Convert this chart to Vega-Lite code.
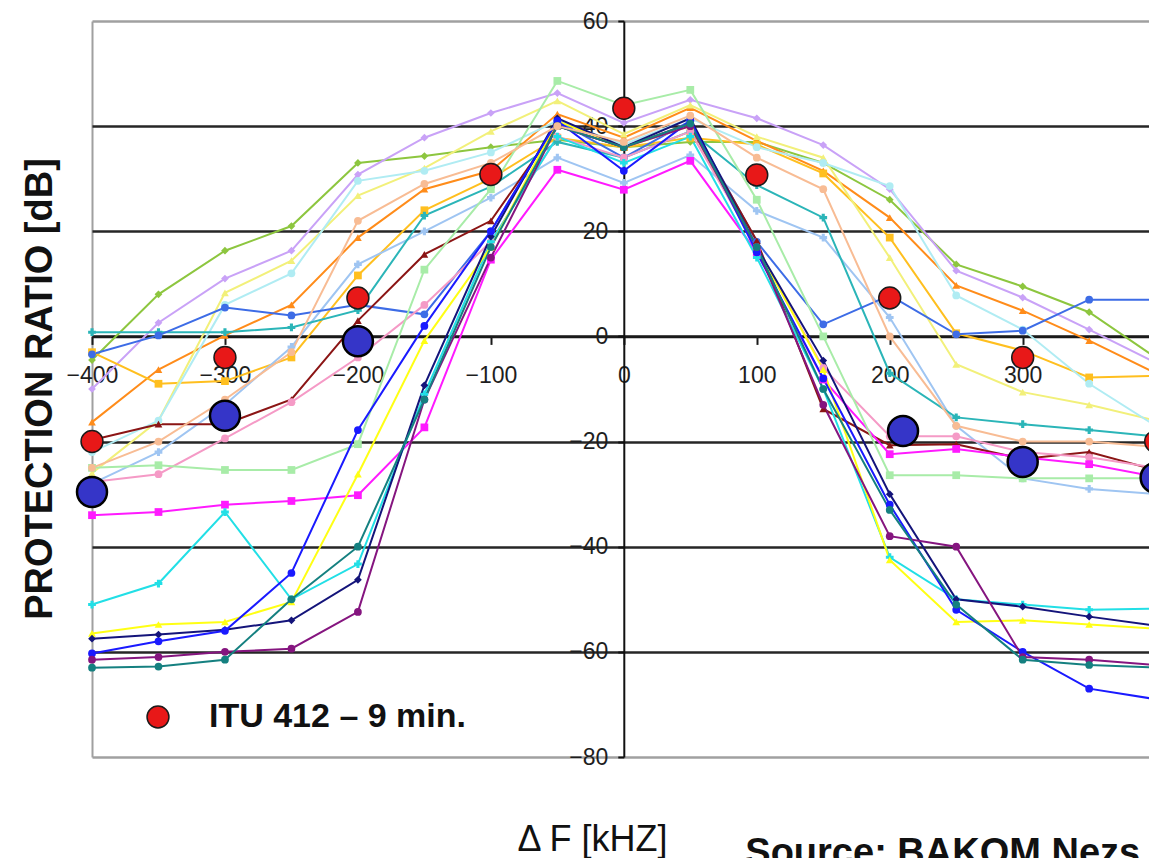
{
"$schema":"https://vega.github.io/schema/vega-lite/v6.json",
"width":1057,"height":736,
"autosize":{"type":"none"},
"padding":{"left":92,"top":21,"right":0,"bottom":101},
"background":"#ffffff",
"config":{"view":{"stroke":null},"font":"Liberation Sans"},
"title":{"text":"PROTECTION RATIO [dB]","orient":"left","anchor":"middle","font":"Liberation Sans","fontSize":38,"fontWeight":"bold","color":"#111111","offset":6},
"datasets":{
"curves":[
{"s":"s1","f":-400,"v":-4.5},{"s":"s1","f":-350,"v":8},{"s":"s1","f":-300,"v":16.3},{"s":"s1","f":-250,"v":21},{"s":"s1","f":-200,"v":33},{"s":"s1","f":-150,"v":34.3},{"s":"s1","f":-100,"v":36},{"s":"s1","f":-50,"v":37.4},{"s":"s1","f":0,"v":36},{"s":"s1","f":50,"v":37},{"s":"s1","f":100,"v":37},{"s":"s1","f":150,"v":33},{"s":"s1","f":200,"v":26},{"s":"s1","f":250,"v":13.7},{"s":"s1","f":300,"v":9.5},{"s":"s1","f":350,"v":4.6},{"s":"s1","f":400,"v":-4},
{"s":"s2","f":-400,"v":-10},{"s":"s2","f":-350,"v":2.6},{"s":"s2","f":-300,"v":11},{"s":"s2","f":-250,"v":16.3},{"s":"s2","f":-200,"v":30.8},{"s":"s2","f":-150,"v":37.8},{"s":"s2","f":-100,"v":42.5},{"s":"s2","f":-50,"v":46.3},{"s":"s2","f":0,"v":40.6},{"s":"s2","f":50,"v":45},{"s":"s2","f":100,"v":41.5},{"s":"s2","f":150,"v":36.4},{"s":"s2","f":200,"v":28},{"s":"s2","f":250,"v":12.5},{"s":"s2","f":300,"v":7.4},{"s":"s2","f":350,"v":1.3},{"s":"s2","f":400,"v":-5},
{"s":"s3","f":-400,"v":-16.3},{"s":"s3","f":-350,"v":-6.3},{"s":"s3","f":-300,"v":0.2},{"s":"s3","f":-250,"v":6},{"s":"s3","f":-200,"v":18.8},{"s":"s3","f":-150,"v":28},{"s":"s3","f":-100,"v":31.5},{"s":"s3","f":-50,"v":42.3},{"s":"s3","f":0,"v":37.8},{"s":"s3","f":50,"v":43.5},{"s":"s3","f":100,"v":37.2},{"s":"s3","f":150,"v":31.5},{"s":"s3","f":200,"v":22.6},{"s":"s3","f":250,"v":9.7},{"s":"s3","f":300,"v":4.9},{"s":"s3","f":350,"v":-0.8},{"s":"s3","f":400,"v":-7},
{"s":"s4","f":-400,"v":-3},{"s":"s4","f":-350,"v":-9},{"s":"s4","f":-300,"v":-8.5},{"s":"s4","f":-250,"v":-4},{"s":"s4","f":-200,"v":11.6},{"s":"s4","f":-150,"v":24},{"s":"s4","f":-100,"v":30},{"s":"s4","f":-50,"v":37.8},{"s":"s4","f":0,"v":36},{"s":"s4","f":50,"v":37.8},{"s":"s4","f":100,"v":36.5},{"s":"s4","f":150,"v":31},{"s":"s4","f":200,"v":18.8},{"s":"s4","f":250,"v":0.6},{"s":"s4","f":300,"v":-2.7},{"s":"s4","f":350,"v":-7.8},{"s":"s4","f":400,"v":-7.5},
{"s":"s5","f":-400,"v":-26},{"s":"s5","f":-350,"v":-16},{"s":"s5","f":-300,"v":8.3},{"s":"s5","f":-250,"v":14.4},{"s":"s5","f":-200,"v":26.8},{"s":"s5","f":-150,"v":32},{"s":"s5","f":-100,"v":39},{"s":"s5","f":-50,"v":44.8},{"s":"s5","f":0,"v":38.5},{"s":"s5","f":50,"v":44},{"s":"s5","f":100,"v":38},{"s":"s5","f":150,"v":34},{"s":"s5","f":200,"v":15},{"s":"s5","f":250,"v":-5.3},{"s":"s5","f":300,"v":-10.6},{"s":"s5","f":350,"v":-13},{"s":"s5","f":400,"v":-16},
{"s":"s6","f":-400,"v":-22},{"s":"s6","f":-350,"v":-16},{"s":"s6","f":-300,"v":6},{"s":"s6","f":-250,"v":12},{"s":"s6","f":-200,"v":29.6},{"s":"s6","f":-150,"v":31.5},{"s":"s6","f":-100,"v":35},{"s":"s6","f":-50,"v":41},{"s":"s6","f":0,"v":36.5},{"s":"s6","f":50,"v":41.5},{"s":"s6","f":100,"v":36},{"s":"s6","f":150,"v":33},{"s":"s6","f":200,"v":28.6},{"s":"s6","f":250,"v":7.8},{"s":"s6","f":300,"v":1.3},{"s":"s6","f":350,"v":-9},{"s":"s6","f":400,"v":-17},
{"s":"s7","f":-400,"v":-28},{"s":"s7","f":-350,"v":-22},{"s":"s7","f":-300,"v":-13},{"s":"s7","f":-250,"v":-2},{"s":"s7","f":-200,"v":13.7},{"s":"s7","f":-150,"v":20},{"s":"s7","f":-100,"v":26.4},{"s":"s7","f":-50,"v":34},{"s":"s7","f":0,"v":29.2},{"s":"s7","f":50,"v":34.5},{"s":"s7","f":100,"v":23.9},{"s":"s7","f":150,"v":18.8},{"s":"s7","f":200,"v":3.6},{"s":"s7","f":250,"v":-17},{"s":"s7","f":300,"v":-27},{"s":"s7","f":350,"v":-29},{"s":"s7","f":400,"v":-30},
{"s":"s8","f":-400,"v":0.8},{"s":"s8","f":-350,"v":0.8},{"s":"s8","f":-300,"v":0.8},{"s":"s8","f":-250,"v":1.7},{"s":"s8","f":-200,"v":5},{"s":"s8","f":-150,"v":23},{"s":"s8","f":-100,"v":28.5},{"s":"s8","f":-50,"v":37},{"s":"s8","f":0,"v":34},{"s":"s8","f":50,"v":39},{"s":"s8","f":100,"v":28.8},{"s":"s8","f":150,"v":22.6},{"s":"s8","f":200,"v":-7},{"s":"s8","f":250,"v":-15.4},{"s":"s8","f":300,"v":-16.7},{"s":"s8","f":350,"v":-17.8},{"s":"s8","f":400,"v":-19},
{"s":"s9","f":-400,"v":-3.4},{"s":"s9","f":-350,"v":0.2},{"s":"s9","f":-300,"v":5.5},{"s":"s9","f":-250,"v":4},{"s":"s9","f":-200,"v":6},{"s":"s9","f":-150,"v":4.2},{"s":"s9","f":-100,"v":20},{"s":"s9","f":-50,"v":41},{"s":"s9","f":0,"v":34},{"s":"s9","f":50,"v":41},{"s":"s9","f":100,"v":18},{"s":"s9","f":150,"v":2.3},{"s":"s9","f":200,"v":7.8},{"s":"s9","f":250,"v":0.4},{"s":"s9","f":300,"v":1.1},{"s":"s9","f":350,"v":7},{"s":"s9","f":400,"v":7},
{"s":"s10","f":-400,"v":-19.7},{"s":"s10","f":-350,"v":-16.7},{"s":"s10","f":-300,"v":-16.7},{"s":"s10","f":-250,"v":-12},{"s":"s10","f":-200,"v":3},{"s":"s10","f":-150,"v":15.6},{"s":"s10","f":-100,"v":22},{"s":"s10","f":-50,"v":40},{"s":"s10","f":0,"v":36},{"s":"s10","f":50,"v":40.5},{"s":"s10","f":100,"v":18.2},{"s":"s10","f":150,"v":-13.8},{"s":"s10","f":200,"v":-20.7},{"s":"s10","f":250,"v":-20.5},{"s":"s10","f":300,"v":-23.3},{"s":"s10","f":350,"v":-22},{"s":"s10","f":400,"v":-25.4},
{"s":"s11","f":-400,"v":-27.7},{"s":"s11","f":-350,"v":-26.2},{"s":"s11","f":-300,"v":-19.4},{"s":"s11","f":-250,"v":-12.5},{"s":"s11","f":-200,"v":-4},{"s":"s11","f":-150,"v":6},{"s":"s11","f":-100,"v":18},{"s":"s11","f":-50,"v":38},{"s":"s11","f":0,"v":34},{"s":"s11","f":50,"v":39},{"s":"s11","f":100,"v":17},{"s":"s11","f":150,"v":-6},{"s":"s11","f":200,"v":-19},{"s":"s11","f":250,"v":-19},{"s":"s11","f":300,"v":-22},{"s":"s11","f":350,"v":-23},{"s":"s11","f":400,"v":-25},
{"s":"s12","f":-400,"v":-34},{"s":"s12","f":-350,"v":-33.4},{"s":"s12","f":-300,"v":-32},{"s":"s12","f":-250,"v":-31.3},{"s":"s12","f":-200,"v":-30.2},{"s":"s12","f":-150,"v":-17.3},{"s":"s12","f":-100,"v":14.6},{"s":"s12","f":-50,"v":31.7},{"s":"s12","f":0,"v":27.9},{"s":"s12","f":50,"v":33.4},{"s":"s12","f":100,"v":16},{"s":"s12","f":150,"v":-8.2},{"s":"s12","f":200,"v":-22.4},{"s":"s12","f":250,"v":-21.4},{"s":"s12","f":300,"v":-23},{"s":"s12","f":350,"v":-24.3},{"s":"s12","f":400,"v":-26.7},
{"s":"s13","f":-400,"v":-25},{"s":"s13","f":-350,"v":-24.5},{"s":"s13","f":-300,"v":-25.4},{"s":"s13","f":-250,"v":-25.4},{"s":"s13","f":-200,"v":-20.5},{"s":"s13","f":-150,"v":12.7},{"s":"s13","f":-100,"v":28},{"s":"s13","f":-50,"v":48.6},{"s":"s13","f":0,"v":44},{"s":"s13","f":50,"v":46.9},{"s":"s13","f":100,"v":26},{"s":"s13","f":150,"v":0},{"s":"s13","f":200,"v":-26.4},{"s":"s13","f":250,"v":-26.4},{"s":"s13","f":300,"v":-27},{"s":"s13","f":350,"v":-27},{"s":"s13","f":400,"v":-27},
{"s":"s14","f":-400,"v":-51},{"s":"s14","f":-350,"v":-47},{"s":"s14","f":-300,"v":-33.4},{"s":"s14","f":-250,"v":-50},{"s":"s14","f":-200,"v":-43.3},{"s":"s14","f":-150,"v":-11},{"s":"s14","f":-100,"v":18},{"s":"s14","f":-50,"v":38},{"s":"s14","f":0,"v":33},{"s":"s14","f":50,"v":38},{"s":"s14","f":100,"v":15},{"s":"s14","f":150,"v":-10},{"s":"s14","f":200,"v":-42},{"s":"s14","f":250,"v":-50},{"s":"s14","f":300,"v":-51},{"s":"s14","f":350,"v":-52},{"s":"s14","f":400,"v":-51.8},
{"s":"s15","f":-400,"v":-56.5},{"s":"s15","f":-350,"v":-54.8},{"s":"s15","f":-300,"v":-54.3},{"s":"s15","f":-250,"v":-50.5},{"s":"s15","f":-200,"v":-26.2},{"s":"s15","f":-150,"v":-0.8},{"s":"s15","f":-100,"v":17},{"s":"s15","f":-50,"v":41},{"s":"s15","f":0,"v":36},{"s":"s15","f":50,"v":40},{"s":"s15","f":100,"v":17},{"s":"s15","f":150,"v":-6.3},{"s":"s15","f":200,"v":-42.5},{"s":"s15","f":250,"v":-54.3},{"s":"s15","f":300,"v":-54},{"s":"s15","f":350,"v":-54.8},{"s":"s15","f":400,"v":-55.6},
{"s":"s16","f":-400,"v":-57.5},{"s":"s16","f":-350,"v":-56.7},{"s":"s16","f":-300,"v":-55.8},{"s":"s16","f":-250,"v":-54},{"s":"s16","f":-200,"v":-46.3},{"s":"s16","f":-150,"v":-9.3},{"s":"s16","f":-100,"v":19},{"s":"s16","f":-50,"v":41.5},{"s":"s16","f":0,"v":36},{"s":"s16","f":50,"v":41.5},{"s":"s16","f":100,"v":17},{"s":"s16","f":150,"v":-4.6},{"s":"s16","f":200,"v":-30},{"s":"s16","f":250,"v":-50},{"s":"s16","f":300,"v":-51.4},{"s":"s16","f":350,"v":-53.3},{"s":"s16","f":400,"v":-55},
{"s":"s17","f":-400,"v":-60.3},{"s":"s17","f":-350,"v":-58},{"s":"s17","f":-300,"v":-56},{"s":"s17","f":-250,"v":-45},{"s":"s17","f":-200,"v":-17.8},{"s":"s17","f":-150,"v":2},{"s":"s17","f":-100,"v":20},{"s":"s17","f":-50,"v":41},{"s":"s17","f":0,"v":31.5},{"s":"s17","f":50,"v":41},{"s":"s17","f":100,"v":16},{"s":"s17","f":150,"v":-8},{"s":"s17","f":200,"v":-32},{"s":"s17","f":250,"v":-52},{"s":"s17","f":300,"v":-60},{"s":"s17","f":350,"v":-67},{"s":"s17","f":400,"v":-69},
{"s":"s18","f":-400,"v":-61.5},{"s":"s18","f":-350,"v":-61},{"s":"s18","f":-300,"v":-60},{"s":"s18","f":-250,"v":-59.4},{"s":"s18","f":-200,"v":-52.4},{"s":"s18","f":-150,"v":-12},{"s":"s18","f":-100,"v":15},{"s":"s18","f":-50,"v":40},{"s":"s18","f":0,"v":36},{"s":"s18","f":50,"v":40},{"s":"s18","f":100,"v":17},{"s":"s18","f":150,"v":-13},{"s":"s18","f":200,"v":-38},{"s":"s18","f":250,"v":-40},{"s":"s18","f":300,"v":-61},{"s":"s18","f":350,"v":-61.5},{"s":"s18","f":400,"v":-62.5},
{"s":"s19","f":-400,"v":-63},{"s":"s19","f":-350,"v":-62.8},{"s":"s19","f":-300,"v":-61.5},{"s":"s19","f":-250,"v":-50},{"s":"s19","f":-200,"v":-40},{"s":"s19","f":-150,"v":-12},{"s":"s19","f":-100,"v":17},{"s":"s19","f":-50,"v":40},{"s":"s19","f":0,"v":36},{"s":"s19","f":50,"v":40.5},{"s":"s19","f":100,"v":17},{"s":"s19","f":150,"v":-10},{"s":"s19","f":200,"v":-33},{"s":"s19","f":250,"v":-51},{"s":"s19","f":300,"v":-61.5},{"s":"s19","f":350,"v":-62.5},{"s":"s19","f":400,"v":-63},
{"s":"s20","f":-400,"v":-25},{"s":"s20","f":-350,"v":-20},{"s":"s20","f":-300,"v":-12},{"s":"s20","f":-250,"v":-3},{"s":"s20","f":-200,"v":22},{"s":"s20","f":-150,"v":29},{"s":"s20","f":-100,"v":33},{"s":"s20","f":-50,"v":40},{"s":"s20","f":0,"v":37},{"s":"s20","f":50,"v":42},{"s":"s20","f":100,"v":34},{"s":"s20","f":150,"v":28},{"s":"s20","f":200,"v":0},{"s":"s20","f":250,"v":-17},{"s":"s20","f":300,"v":-20},{"s":"s20","f":350,"v":-20},{"s":"s20","f":400,"v":-21}
],
"itu":[
{"f":-400,"v":-20},{"f":-300,"v":-4},{"f":-200,"v":7.3},{"f":-100,"v":30.8},{"f":0,"v":43.4},{"f":100,"v":30.7},{"f":200,"v":7.3},{"f":300,"v":-4},{"f":400,"v":-20}
],
"meas":[
{"f":-400,"v":-29.6},{"f":-300,"v":-15.1},{"f":-200,"v":-0.9},{"f":210,"v":-18},{"f":300,"v":-23.9},{"f":400,"v":-26.9}
]
},
"layer":[
{"data":{"name":"curves"},
 "mark":{"type":"line","strokeWidth":2},
 "encoding":{
  "x":{"field":"f","type":"quantitative","scale":{"domain":[-400,395],"nice":false,"zero":false},
   "axis":{"orient":"bottom","offset":-420.6,"values":[-400,-300,-200,-100,0,100,200,300,400],"format":"d",
    "grid":true,"gridColor":{"condition":{"test":"datum.value === -400","value":"#a0a0a0"},"value":"transparent"},"gridWidth":2,
    "domainColor":"#1a1a1a","domainWidth":2.5,"tickColor":"#1a1a1a","tickSize":8,"tickWidth":2,
    "labelFont":"Liberation Sans","labelFontSize":23,"labelColor":"#1e1e1e","labelPadding":20,"labelFlush":false,"labelOverlap":false,"labelBound":false,
    "title":"Δ F [kHZ]","titleX":500,"titleY":514,"titleAlign":"center","titleBaseline":"alphabetic","titleFont":"Liberation Sans","titleFontSize":36,"titleFontWeight":"normal","titleColor":"#111111"}},
  "y":{"field":"v","type":"quantitative","scale":{"domain":[-80,60],"nice":false,"zero":false},
   "axis":{"orient":"left","offset":-531.8,"values":[-80,-60,-40,-20,0,20,40,60],"format":"d",
    "grid":true,"gridColor":{"condition":{"test":"datum.value === 60 || datum.value === -80","value":"#a0a0a0"},"value":"#262626"},"gridWidth":2.5,
    "domainColor":"#111111","domainWidth":2,"tickColor":"#111111","tickSize":6,"tickWidth":2,
    "labelFont":"Liberation Sans","labelFontSize":23,"labelColor":"#1e1e1e","labelPadding":10,
    "title":"Source: BAKOM Nezs","titleAngle":0,"titleX":121,"titleY":843,"titleAlign":"left","titleBaseline":"alphabetic","titleFont":"Liberation Sans","titleFontSize":38,"titleFontWeight":"bold","titleColor":"#111111"}},
  "color":{"field":"s","type":"nominal","legend":null,
   "scale":{"domain":["s1","s2","s3","s4","s5","s6","s7","s8","s9","s10","s11","s12","s13","s14","s15","s16","s17","s18","s19","s20"],
    "range":["#8dc63f","#c9a2f7","#ff8c1a","#ffbf1f","#f2f07a","#b0ecf3","#9fc5f2","#2bb5b8","#3d6ce6","#8b1515","#f59ac6","#ff1aff","#a8eca8","#22dfe6","#ffff14","#14147a","#1a1aff","#85157f","#158080","#f8bc94"]}}
 }},
{"data":{"name":"curves"},
 "mark":{"type":"point","filled":true,"size":60,"opacity":1},
 "encoding":{
  "x":{"field":"f","type":"quantitative"},
  "y":{"field":"v","type":"quantitative"},
  "color":{"field":"s","type":"nominal","legend":null,
   "scale":{"domain":["s1","s2","s3","s4","s5","s6","s7","s8","s9","s10","s11","s12","s13","s14","s15","s16","s17","s18","s19","s20"],
    "range":["#8dc63f","#c9a2f7","#ff8c1a","#ffbf1f","#f2f07a","#b0ecf3","#9fc5f2","#2bb5b8","#3d6ce6","#8b1515","#f59ac6","#ff1aff","#a8eca8","#22dfe6","#ffff14","#14147a","#1a1aff","#85157f","#158080","#f8bc94"]}},
  "shape":{"field":"s","type":"nominal","legend":null,
   "scale":{"domain":["s1","s2","s3","s4","s5","s6","s7","s8","s9","s10","s11","s12","s13","s14","s15","s16","s17","s18","s19","s20"],
    "range":["diamond","diamond","triangle-up","square","triangle-up","circle","cross","cross","circle","triangle-up","circle","square","square","cross","triangle-up","diamond","circle","circle","circle","circle"]}}
 }},
{"data":{"name":"meas"},
 "mark":{"type":"point","filled":true,"shape":"circle","size":900,"fill":"#3535c8","stroke":"#000000","strokeWidth":2.5,"opacity":1},
 "encoding":{
  "x":{"field":"f","type":"quantitative"},
  "y":{"field":"v","type":"quantitative"}
 }},
{"data":{"name":"itu"},
 "mark":{"type":"point","filled":true,"shape":"circle","size":480,"stroke":"#1a1a1a","strokeWidth":1.5,"opacity":1},
 "encoding":{
  "x":{"field":"f","type":"quantitative"},
  "y":{"field":"v","type":"quantitative"},
  "fill":{"datum":"ITU 412 – 9 min.","type":"nominal","scale":{"range":["#e81818"]},
   "legend":{"orient":"none","legendX":49,"legendY":679,"title":null,"padding":0,
    "labelFont":"Liberation Sans","labelFontSize":34,"labelFontWeight":"bold","labelColor":"#111111","labelLimit":600,"labelOffset":34,
    "symbolType":"circle","symbolSize":480,"symbolStrokeColor":"#1a1a1a","symbolStrokeWidth":1.5,"symbolFillColor":"#e81818"}}
 }}
],
"resolve":{"scale":{"color":"independent","shape":"independent","fill":"independent"}}
}
